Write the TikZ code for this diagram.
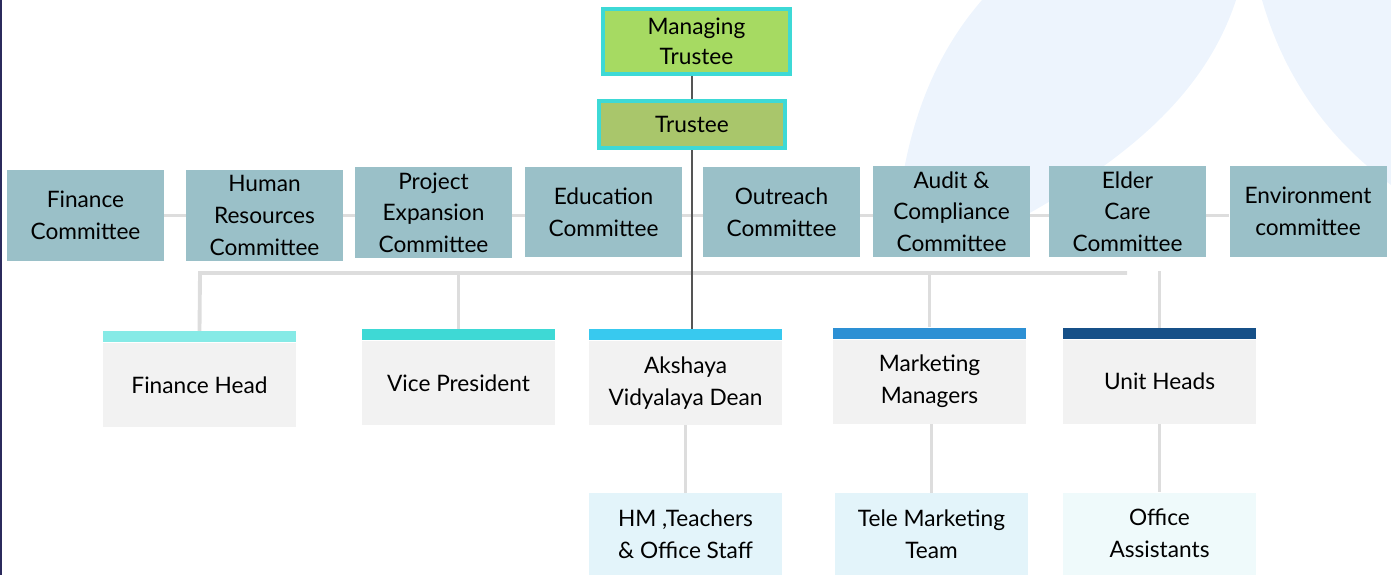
\documentclass[tikz,border=0pt]{standalone}
\usepackage{fontspec}
\setmainfont{Lato}
\usepackage{xcolor}
\usetikzlibrary{positioning,calc}

\definecolor{trustcyan}{HTML}{3DD9D6}
\definecolor{mtfill}{HTML}{A6DA62}
\definecolor{trfill}{HTML}{A9C66B}
\definecolor{commfill}{HTML}{9AC0C8}
\definecolor{mgrfill}{HTML}{F2F2F2}
\definecolor{teamfill}{HTML}{E3F4FA}
\definecolor{officefill}{HTML}{EFFAFB}
\definecolor{linegrey}{HTML}{DDDDDD}
\definecolor{linedark}{HTML}{555555}
\definecolor{bgblue}{HTML}{EDF4FD}
\definecolor{edgenavy}{HTML}{2B2A5C}
\definecolor{barA}{HTML}{86EAE6}
\definecolor{barB}{HTML}{3ED9D5}
\definecolor{barC}{HTML}{38C9EF}
\definecolor{barD}{HTML}{2D90D4}
\definecolor{barE}{HTML}{165088}

\pgfdeclarelayer{back}
\pgfdeclarelayer{lines}
\pgfsetlayers{back,lines,main}

\begin{document}
\begin{tikzpicture}[
    x=0.02cm, y=-0.02cm,
    font=\fontsize{12.9}{18}\selectfont,
    trustbox/.style={rectangle, draw=trustcyan, line width=2.2pt, minimum width=3.74cm, inner sep=0pt, align=center},
    committee/.style={rectangle, fill=commfill, minimum width=3.14cm, minimum height=1.82cm, inner sep=0pt, align=center},
    mgrbox/.style={rectangle, fill=mgrfill, minimum width=3.86cm, minimum height=1.68cm, inner sep=0pt, align=center},
    mgrbar/.style={rectangle, fill=#1, minimum width=3.86cm, minimum height=0.22cm, inner sep=0pt},
    teambox/.style={rectangle, fill=teamfill, minimum width=3.86cm, minimum height=1.64cm, inner sep=0pt, align=center},
    darkline/.style={draw=linedark, line width=0.8pt},
    greyline/.style={draw=linegrey, line width=2.2pt}
]
    \useasboundingbox (0,0) rectangle (1391,575);

    % Background
    \begin{pgfonlayer}{back}
        \fill[bgblue] (982,0) .. controls (930,60) and (900,140) .. (895,250) -- (960,250)
            .. controls (1100,180) and (1200,110) .. (1236,0) -- cycle;
        \fill[bgblue] (1262,0) .. controls (1285,80) and (1330,140) .. (1391,185) -- (1391,0) -- cycle;
        \draw[edgenavy, line width=1.1pt] (1,0) -- (1,575);
    \end{pgfonlayer}

    % Trustees
    \node[trustbox, fill=mtfill, minimum height=1.3cm, font=\fontsize{12.9}{17}\selectfont] (mtrustee) at (696.5,41.5) {Managing\\Trustee};
    \node[trustbox, fill=trfill, minimum width=3.72cm, minimum height=0.94cm] (trustee) at (692,124.5) {Trustee};

    % Committees
    \node[committee] (fincom) at (85.5,215.5) {Finance\\Committee};
    \node[committee] (hrcom) at (264.5,215.5) {Human\\Resources\\Committee};
    \node[committee] (projcom) at (433.5,212.5) {Project\\Expansion\\Committee};
    \node[committee] (educom) at (603.5,212) {Education\\Committee};
    \node[committee] (outcom) at (781.5,212) {Outreach\\Committee};
    \node[committee] (auditcom) at (951.5,211.5) {Audit \&\\Compliance\\Committee};
    \node[committee] (eldercom) at (1127.5,211.5) {Elder\\Care\\Committee};
    \node[committee] (envcom) at (1308,211.5) {Environment\\committee};

    % Heads
    \node[mgrbox] (finhead) at (199.5,385) {Finance Head};
    \node[mgrbar=barA, above=0pt of finhead] (finheadbar) {};
    \node[mgrbox] (vicepres) at (458.5,383) {Vice President};
    \node[mgrbar=barB, above=0pt of vicepres] (vicepresbar) {};
    \node[mgrbox] (dean) at (685.5,383) {Akshaya\\Vidyalaya Dean};
    \node[mgrbar=barC, above=0pt of dean] (deanbar) {};
    \node[mgrbox] (mktmgr) at (929.5,381.5) {Marketing\\Managers};
    \node[mgrbar=barD, above=0pt of mktmgr] (mktmgrbar) {};
    \node[mgrbox] (unithead) at (1159.5,381.5) {Unit Heads};
    \node[mgrbar=barE, above=0pt of unithead] (unitheadbar) {};

    % Teams
    \node[teambox] (staff) at (685.5,534) {HM ,Teachers\\\& Office Staff};
    \node[teambox] (telemkt) at (931.5,534) {Tele Marketing\\Team};
    \node[teambox, fill=officefill] (officeast) at (1159.5,533.5) {Office\\Assistants};

    % Lines
    \coordinate (busL) at (200,273);
    \coordinate (busR) at (1127,273);
    \begin{pgfonlayer}{lines}
        \draw[greyline] (fincom.east) -- (fincom.east -| envcom.west);
        \draw[greyline] (busR) -- (busL) -- (finheadbar.north);
        \draw[greyline] ([yshift=0.04cm]vicepresbar.north |- busL) -- (vicepresbar.north);
        \draw[greyline] ([yshift=0.04cm]mktmgrbar.north |- busL) -- (mktmgrbar.north);
        \draw[greyline] ([yshift=0.04cm]unitheadbar.north |- busL) -- (unitheadbar.south);
        \draw[greyline] (dean.south) -- (staff.north);
        \draw[greyline] (mktmgr.south -| telemkt.north) -- (telemkt.north);
        \draw[greyline] (unithead.south) -- (officeast.north);
        \draw[darkline] (mtrustee.south -| trustee.north) -- (trustee.north);
        \draw[darkline] (trustee.south) -- (trustee.south |- deanbar.north);
    \end{pgfonlayer}
\end{tikzpicture}
\end{document}
